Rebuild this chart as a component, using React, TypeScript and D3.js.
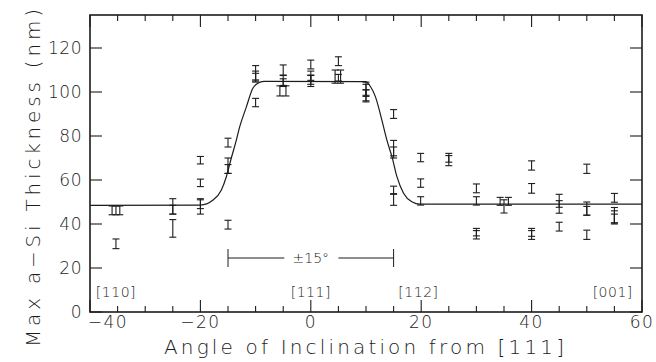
import * as d3 from "d3";

// measured thickness vs inclination angle (deg), with error half-widths
const pointAngle = [
  -36, -35.3, -34.6, -35.3,
  -25, -25, -25,
  -20, -20, -20, -20,
  -15, -15, -15, -15,
  -10, -10, -10, -10,
  -5, -5, -5.6, -4.5, -5,
  0, 0, 0, 0,
  5, 4.4, 5.4, 5,
  10, 10, 10, 10,
  15, 15, 15, 15, 15,
  19.9, 19.9, 19.9,
  25, 25,
  30, 30, 30, 30,
  34.3, 35.8, 35,
  40, 40, 40, 40,
  45, 45, 45,
  50, 50, 50, 50,
  55, 55, 55, 55
];
const pointValue = [
  46.2, 46.2, 46.2, 31,
  48, 46.5, 38,
  69, 58.7, 48, 49,
  77, 66.5, 65, 39.7,
  108.5, 107.5, 106.5, 95.2,
  110, 105, 100.5, 100.5, 104.5,
  112.5, 106, 105.5, 106.5,
  114, 107, 107, 106.5,
  100, 101, 98.5, 99.5,
  90, 74.5, 72.5, 55.5, 51,
  70.2, 58.6, 50.5,
  69.3, 69.6,
  56.2, 50.5, 35.6, 35.8,
  50.3, 50.3, 48,
  66.6, 56.2, 35.5, 35.7,
  49.2, 49.1, 38.8,
  65.1, 47, 46, 35.1,
  51.9, 44, 43, 42.5
];
const pointError = [
  2, 2, 2, 2.2,
  3.5, 2, 4,
  1.7, 1.7, 3.5, 2,
  2, 3.5, 2, 2,
  3.5, 2, 2, 1.9,
  2.3, 2.5, 2.3, 2.3, 1.5,
  2, 3.5, 2, 1.2,
  2, 3, 3, 1.5,
  4.5, 2.5, 2.5, 1.5,
  2, 3.5, 2.5, 1.7, 2.5,
  1.9, 1.9, 1.9,
  2.8, 1.5,
  2, 1.9, 2.4, 1.2,
  1.8, 1.8, 3,
  2.1, 2.2, 2.5, 1.3,
  4.3, 1.5, 2,
  2.1, 3, 2, 2.1,
  2, 3.5, 3, 2
];

// fitted curve
const curveAngle = [-40, -20, -17.7, -16.2, -15.3, -14.4, -13.5, -12.9, -11.7, -10.5, -9.6, -8.5,
  9.9, 10.8, 11.7, 12.9, 13.8, 14.7, 15.6, 16.8, 18.3, 19.8, 60];
const curveValue = [48.5, 48.6, 50.9, 55.5, 61.5, 70, 78, 84, 93, 101.7, 104, 104.8,
  104.7, 102.5, 97.9, 87, 78, 70.6, 61.5, 54, 50.1, 49, 49];

const xTicks = [-40, -20, 0, 20, 40, 60];
const yTicks = [0, 20, 40, 60, 80, 100, 120];
const directionLabels = ["[110]", "[111]", "[112]", "[001]"];
const directionAngles = [-35.3, 0, 19.5, 54.7];

export default function App() {
  const width = 656;
  const height = 362;
  const left = 90, right = 642, top = 15, bottom = 312;
  const ink = "#1c1c1c";
  const font = "DejaVu Sans, sans-serif";
  const weight = 300;

  const x = d3.scaleLinear([-40, 60], [left, right]);
  const y = d3.scaleLinear([0, 135], [bottom, top]);

  const minorX = d3.range(-40, 61, 5);
  const line = d3.line<number>((d, i) => x(curveAngle[i]), (d) => y(d)).curve(d3.curveMonotoneX);

  return (
    <svg width={width} height={height} style={{ position: "absolute", left: 0, top: 0, background: "#fff" }}>
      {/* frame */}
      <rect x={left} y={top} width={right - left} height={bottom - top} fill="none" stroke={ink} strokeWidth={1.6} />

      {/* x ticks, bottom and top */}
      <g stroke={ink} strokeWidth={1.1}>
        {minorX.map((v) => {
          const len = v % 20 === 0 ? 12 : 6;
          return (
            <g key={v}>
              <line x1={x(v)} x2={x(v)} y1={bottom} y2={bottom - len} />
              <line x1={x(v)} x2={x(v)} y1={top} y2={top + len} />
            </g>
          );
        })}
        {yTicks.map((v) => (
          <g key={v}>
            <line x1={left} x2={left + 12} y1={y(v)} y2={y(v)} />
            <line x1={right} x2={right - 12} y1={y(v)} y2={y(v)} />
          </g>
        ))}
      </g>

      {/* tick labels */}
      <g fontFamily={font} fontWeight={weight} fontSize={17} fill={ink}>
        {xTicks.map((v, i) => (
          <text key={v} x={i === 0 ? x(v) + 18 : x(v)} y={328} textAnchor="middle" letterSpacing={1.5}>
            {v < 0 ? "\u2212" + Math.abs(v) : v}
          </text>
        ))}
        {yTicks.map((v) => (
          <text key={v} x={left - 8} y={y(v)} dy="0.36em" textAnchor="end" letterSpacing={0.5}>
            {v}
          </text>
        ))}
      </g>

      {/* fitted curve */}
      <path d={line(curveValue) || ""} fill="none" stroke={ink} strokeWidth={1.2} />

      {/* error bars */}
      <g stroke={ink} strokeWidth={1.1}>
        {pointAngle.map((a, i) => {
          const cx = x(a);
          const y1 = y(pointValue[i] + pointError[i]);
          const y2 = y(pointValue[i] - pointError[i]);
          return (
            <g key={i}>
              <line x1={cx} x2={cx} y1={y1} y2={y2} />
              <line x1={cx - 3.5} x2={cx + 3.5} y1={y1} y2={y1} />
              <line x1={cx - 3.5} x2={cx + 3.5} y1={y2} y2={y2} />
            </g>
          );
        })}
      </g>

      {/* ±15° span */}
      <g stroke={ink} strokeWidth={1}>
        <line x1={x(-15)} x2={x(-15)} y1={249} y2={267} />
        <line x1={x(15)} x2={x(15)} y1={249} y2={267} />
        <line x1={x(-15)} x2={x(-4.8)} y1={258} y2={258} />
        <line x1={x(5)} x2={x(15)} y1={258} y2={258} />
      </g>
      <text x={x(0)} y={263} textAnchor="middle" fontFamily={font} fontWeight={weight} fontSize={14} fill={ink}>
        ±15°
      </text>

      {/* crystal directions */}
      <g fontFamily={font} fontWeight={weight} fontSize={14} fill={ink}>
        {directionLabels.map((t, i) => (
          <text key={t} x={x(directionAngles[i])} y={297} textAnchor="middle" letterSpacing={0.5}>
            {t}
          </text>
        ))}
      </g>

      {/* axis titles */}
      <text x={364} y={354} textAnchor="middle" fontFamily={font} fontWeight={weight} fontSize={20} fill={ink}
        textLength={400} lengthAdjust="spacing">
        Angle of Inclination from [111]
      </text>
      <text transform={`translate(40,178) rotate(-90)`} textAnchor="middle" fontFamily={font} fontWeight={weight}
        fontSize={20} fill={ink} textLength={338} lengthAdjust="spacing">
        Max a−Si Thickness (nm)
      </text>
    </svg>
  );
}
